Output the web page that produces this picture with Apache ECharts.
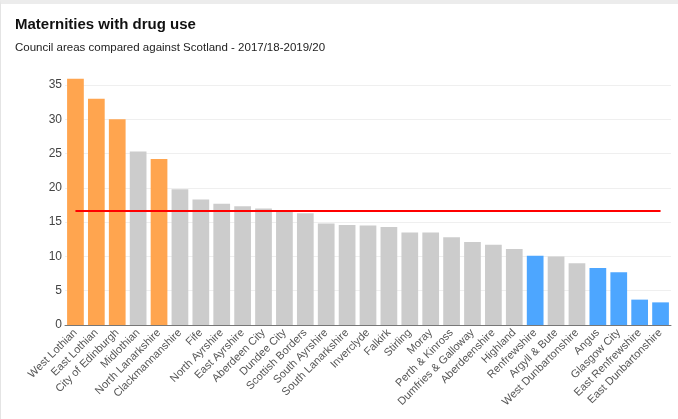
<!DOCTYPE html>
<html>
<head>
<meta charset="utf-8">
<script src="https://cdn.jsdelivr.net/npm/echarts@6/dist/echarts.min.js"></script>
<style>
html,body{margin:0;padding:0;background:#fff;}
#wrap{position:absolute;left:0;top:0;width:678px;height:419px;box-sizing:border-box;border-top:4px solid #ececec;border-left:1px solid #e4e4e4;}
#chart{position:absolute;left:0;top:0;width:677px;height:415px;}
</style>
</head>
<body>
<div id="wrap"><div id="chart"></div></div>
<script>
const categories = ["West Lothian","East Lothian","City of Edinburgh","Midlothian","North Lanarkshire","Clackmannanshire","Fife","North Ayrshire","East Ayrshire","Aberdeen City","Dundee City","Scottish Borders","South Ayrshire","South Lanarkshire","Inverclyde","Falkirk","Stirling","Moray","Perth & Kinross","Dumfries & Galloway","Aberdeenshire","Highland","Renfrewshire","Argyll & Bute","West Dunbartonshire","Angus","Glasgow City","East Renfrewshire","East Dunbartonshire"];
const values = [35.9,33.0,30.0,25.3,24.2,19.8,18.3,17.7,17.3,17.0,16.5,16.3,14.8,14.6,14.5,14.3,13.5,13.5,12.8,12.1,11.7,11.1,10.1,10.0,9.0,8.3,7.7,3.7,3.3];
// significance: 1 = significantly higher, 0 = not different, -1 = significantly lower
const significance = [1,1,1,0,1,0,0,0,0,0,0,0,0,0,0,0,0,0,0,0,0,0,-1,0,0,-1,-1,-1,-1];
const scotlandValue = 16.6;
const yTicks = [0,5,10,15,20,25,30,35];

const colorFor = {"1":"#ffa54f","0":"#cccccc","-1":"#4da6ff"};
const FONT = 'Liberation Sans, Arial, sans-serif';

const chart = echarts.init(document.getElementById('chart'));
chart.setOption({
  animation:false,
  backgroundColor:'#fff',
  textStyle:{fontFamily:FONT},
  title:[
    {text:'Maternities with drug use',left:9,top:8,textStyle:{fontSize:15,fontWeight:'bold',color:'#111',fontFamily:FONT}},
    {text:'Council areas compared against Scotland - 2017/18-2019/20',left:9,top:33,textStyle:{fontSize:11.5,fontWeight:'normal',color:'#222',fontFamily:FONT}}
  ],
  grid:{left:64,right:7,top:81,bottom:94,containLabel:false},
  xAxis:{
    type:'category',
    data:categories,
    axisTick:{show:false},
    axisLine:{lineStyle:{color:'#777',width:1}},
    axisLabel:{rotate:45,interval:0,fontSize:11,color:'#555',margin:6,fontFamily:FONT}
  },
  yAxis:{
    type:'value',
    min:yTicks[0],
    max:yTicks[yTicks.length-1],
    interval:5,
    axisLine:{show:false},
    axisTick:{show:false},
    axisLabel:{fontSize:12,color:'#444',margin:3,fontFamily:FONT},
    splitLine:{lineStyle:{color:'#efefef',width:1}}
  },
  series:[{
    type:'bar',
    clip:false,
    barCategoryGap:'20%',
    data:values.map((v,i)=>({value:v,itemStyle:{color:colorFor[String(significance[i])]}})),
    markLine:{
      silent:true,
      symbol:['none','none'],
      label:{show:false},
      lineStyle:{color:'#ff0000',width:2,type:'solid'},
      data:[[{coord:[categories[0],scotlandValue]},{coord:[categories[categories.length-1],scotlandValue]}]]
    }
  }]
});
</script>
</body>
</html>
